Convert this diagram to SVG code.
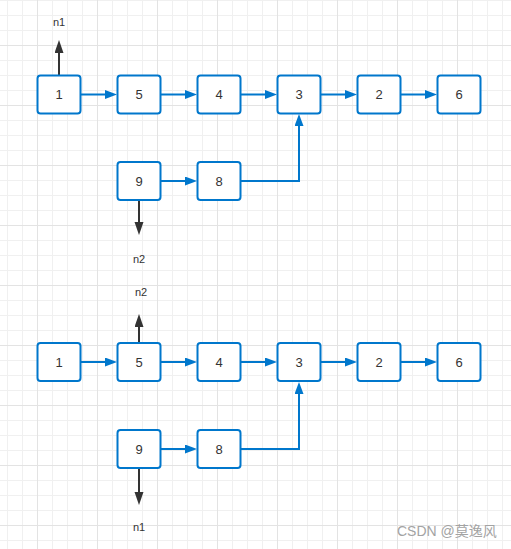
<svg xmlns="http://www.w3.org/2000/svg" width="511" height="549" viewBox="0 0 511 549">
<defs>
<pattern id="grid" patternUnits="userSpaceOnUse" x="37" y="45" width="60" height="60">
<path d="M15.5,0V60M30.5,0V60M45.5,0V60M0,15.5H60M0,30.5H60M0,45.5H60" stroke="#f0f0f0" stroke-width="1" fill="none"/>
<path d="M0.5,0V60M0,0.5H60" stroke="#e3e3e3" stroke-width="1" fill="none"/>
</pattern>
<marker id="ab" markerUnits="userSpaceOnUse" markerWidth="12" markerHeight="10" refX="6" refY="4.5" orient="auto">
<path d="M0,0L12,4.5L0,9Z" fill="#0077cc"/>
</marker>
<marker id="ak" markerUnits="userSpaceOnUse" markerWidth="13" markerHeight="10" refX="7" refY="4.5" orient="auto">
<path d="M0,0L13,4.5L0,9Z" fill="#333333"/>
</marker>
</defs>
<style>
.box{fill:#ffffff;stroke:#0077cc;stroke-width:2}
.t{font-family:"Liberation Sans",Arial,sans-serif;font-size:13px;fill:#333333;text-anchor:middle}
.lbl{font-family:"Liberation Sans",Arial,sans-serif;font-size:11px;fill:#333333;text-anchor:middle}
.b{stroke:#0077cc;stroke-width:2;fill:none;marker-end:url(#ab)}
.k{stroke:#333333;stroke-width:2;fill:none;marker-end:url(#ak)}
</style>
<rect width="511" height="549" fill="#ffffff"/>
<rect width="511" height="549" fill="url(#grid)"/>
<g id="connectors">
<path class="b" d="M81,94.5H111"/>
<path class="b" d="M161,94.5H191"/>
<path class="b" d="M241,94.5H271"/>
<path class="b" d="M321,94.5H351"/>
<path class="b" d="M401,94.5H431"/>
<path class="b" d="M161,181H191"/>
<path class="b" d="M241,181H299V120"/>
<path class="b" d="M81,362H111"/>
<path class="b" d="M161,362H191"/>
<path class="b" d="M241,362H271"/>
<path class="b" d="M321,362H351"/>
<path class="b" d="M401,362H431"/>
<path class="b" d="M161,449H191"/>
<path class="b" d="M241,449H299V388"/>
<path class="k" d="M59,75V46"/>
<path class="k" d="M139,200V229"/>
<path class="k" d="M139,343V320"/>
<path class="k" d="M139,469V499"/>
</g>
<g id="n1a"><rect class="box" x="37.5" y="75.5" width="43" height="38" rx="3"/><text class="t" x="59" y="99">1</text></g>
<g id="n5a"><rect class="box" x="117.5" y="75.5" width="43" height="38" rx="3"/><text class="t" x="139" y="99">5</text></g>
<g id="n4a"><rect class="box" x="197.5" y="75.5" width="43" height="38" rx="3"/><text class="t" x="219" y="99">4</text></g>
<g id="n3a"><rect class="box" x="277.5" y="75.5" width="43" height="38" rx="3"/><text class="t" x="299" y="99">3</text></g>
<g id="n2a"><rect class="box" x="357.5" y="75.5" width="43" height="38" rx="3"/><text class="t" x="379" y="99">2</text></g>
<g id="n6a"><rect class="box" x="437.5" y="75.5" width="43" height="38" rx="3"/><text class="t" x="459" y="99">6</text></g>
<g id="n9a"><rect class="box" x="117.5" y="162" width="43" height="38" rx="3"/><text class="t" x="139" y="185.5">9</text></g>
<g id="n8a"><rect class="box" x="197.5" y="162" width="43" height="38" rx="3"/><text class="t" x="219" y="185.5">8</text></g>
<g id="n1b"><rect class="box" x="37.5" y="343" width="43" height="38" rx="3"/><text class="t" x="59" y="366.5">1</text></g>
<g id="n5b"><rect class="box" x="117.5" y="343" width="43" height="38" rx="3"/><text class="t" x="139" y="366.5">5</text></g>
<g id="n4b"><rect class="box" x="197.5" y="343" width="43" height="38" rx="3"/><text class="t" x="219" y="366.5">4</text></g>
<g id="n3b"><rect class="box" x="277.5" y="343" width="43" height="38" rx="3"/><text class="t" x="299" y="366.5">3</text></g>
<g id="n2b"><rect class="box" x="357.5" y="343" width="43" height="38" rx="3"/><text class="t" x="379" y="366.5">2</text></g>
<g id="n6b"><rect class="box" x="437.5" y="343" width="43" height="38" rx="3"/><text class="t" x="459" y="366.5">6</text></g>
<g id="n9b"><rect class="box" x="117.5" y="430" width="43" height="38" rx="3"/><text class="t" x="139" y="453.5">9</text></g>
<g id="n8b"><rect class="box" x="197.5" y="430" width="43" height="38" rx="3"/><text class="t" x="219" y="453.5">8</text></g>
<g id="lbl-n1a"><text class="lbl" x="59" y="26">n1</text></g>
<g id="lbl-n2a"><text class="lbl" x="139" y="263">n2</text></g>
<g id="lbl-n2b"><text class="lbl" x="141" y="296">n2</text></g>
<g id="lbl-n1b"><text class="lbl" x="139" y="531">n1</text></g>
<text x="397" y="536" font-family="'Liberation Sans','Noto Sans CJK SC',sans-serif" font-size="14" fill="#a3a3a3">CSDN @莫逸风</text>
</svg>
